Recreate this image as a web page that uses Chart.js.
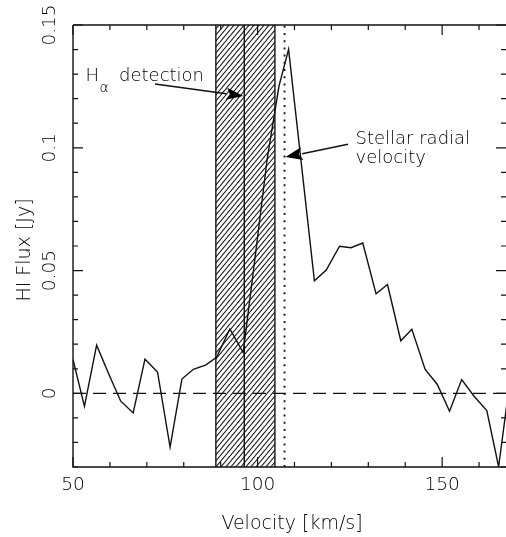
<!DOCTYPE html>
<html>
<head>
<meta charset="utf-8">
<script src="https://cdn.jsdelivr.net/npm/chart.js@4/dist/chart.umd.min.js"></script>
<style>
  html, body { margin: 0; padding: 0; background: #fff; }
  canvas { display: block; }
</style>
</head>
<body>
<canvas id="spectrum" width="506" height="537"></canvas>
<script>
// HI spectrum: channel velocity (km/s) and flux density (Jy)
const velocity = [50.0, 53.1, 56.4, 59.6, 62.9, 66.3, 69.5, 72.9, 76.3, 79.5, 82.6, 85.9,
  88.9, 92.5, 96.1, 99.3, 102.6, 105.8, 108.4, 115.4, 118.6, 122.2, 125.3, 128.5,
  132.1, 135.2, 138.8, 141.8, 145.4, 148.7, 152.0, 155.3, 158.7, 162.1, 165.3, 168.6];
const hiFlux = [0.0138, -0.0053, 0.0196, 0.0082, -0.0031, -0.0080, 0.0139, 0.0087, -0.0219, 0.0058, 0.0098, 0.0115,
  0.0147, 0.0262, 0.0166, 0.0550, 0.0954, 0.1251, 0.1401, 0.0458, 0.0502, 0.0599, 0.0593, 0.0612,
  0.0405, 0.0443, 0.0214, 0.0261, 0.0097, 0.0036, -0.0073, 0.0056, -0.0013, -0.0070, -0.0299, 0.0078];

// H-alpha detection window, its centre, and the stellar radial velocity (km/s)
const hAlphaWindow = [88.7, 104.7];
const hAlphaCentre = 96.4;
const stellarVelocity = 107.3;

// Axis ranges and labelled ticks
const velocityRange = [50, 167.3];
const fluxRange = [-0.03, 0.15];
const velocityTickLabels = [50, 100, 150];
const fluxTickLabels = [0, 0.05, 0.1, 0.15];
const velocityMinorStep = 10;
const fluxMinorStep = 0.01;

const INK = '#111';
const FONT = '"DejaVu Sans", "Liberation Sans", sans-serif';

// Diagonal hatching for the H-alpha window
function hatchPattern() {
  const w = 5, h = 6;
  const tile = document.createElement('canvas');
  tile.width = w; tile.height = h;
  const t = tile.getContext('2d');
  t.strokeStyle = INK;
  t.lineWidth = 1.1;
  for (let k = -1; k <= 1; k++) {
    t.beginPath();
    t.moveTo(k * w, h);
    t.lineTo(k * w + w, 0);
    t.stroke();
  }
  return t.createPattern(tile, 'repeat');
}

const spectrumPoints = velocity.map((v, i) => ({ x: v, y: hiFlux[i] }));
const zeroLine = [{ x: velocityRange[0], y: 0 }, { x: velocityRange[1] + 2, y: 0 }];
const vertical = v => [{ x: v, y: fluxRange[0] }, { x: v, y: fluxRange[1] }];

function arrow(ctx, x0, y0, x1, y1, len, half) {
  const a = Math.atan2(y1 - y0, x1 - x0);
  const bx = x1 - len * Math.cos(a), by = y1 - len * Math.sin(a);
  ctx.beginPath();
  ctx.moveTo(x0, y0);
  ctx.lineTo(bx, by);
  ctx.stroke();
  ctx.beginPath();
  ctx.moveTo(x1, y1);
  ctx.lineTo(bx + half * Math.sin(a), by - half * Math.cos(a));
  ctx.lineTo(x1 - 0.8 * len * Math.cos(a), y1 - 0.8 * len * Math.sin(a));
  ctx.lineTo(bx - half * Math.sin(a), by + half * Math.cos(a));
  ctx.closePath();
  ctx.fill();
}

// Frame with inward ticks, tick labels, titles and annotations
const decorations = {
  id: 'decorations',
  afterDraw(chart) {
    const { ctx, chartArea: ca, scales } = chart;
    const xs = scales.x, ys = scales.y;
    ctx.save();
    ctx.strokeStyle = INK;
    ctx.fillStyle = '#000';
    ctx.lineWidth = 1.4;

    // frame: left, bottom, top
    ctx.beginPath();
    ctx.moveTo(ca.left, ca.top);
    ctx.lineTo(ca.left, ca.bottom);
    ctx.lineTo(ca.right, ca.bottom);
    ctx.moveTo(ca.left, ca.top);
    ctx.lineTo(ca.right, ca.top);
    ctx.stroke();

    // velocity ticks (bottom and top)
    ctx.lineWidth = 1.2;
    const nx = Math.floor((velocityRange[1] - velocityRange[0]) / velocityMinorStep + 1e-6);
    for (let i = 0; i <= nx; i++) {
      const v = velocityRange[0] + i * velocityMinorStep;
      const px = xs.getPixelForValue(v);
      const major = velocityTickLabels.includes(v);
      const L = major ? 10 : 5;
      ctx.beginPath();
      ctx.moveTo(px, ca.bottom); ctx.lineTo(px, ca.bottom - L);
      ctx.moveTo(px, ca.top); ctx.lineTo(px, ca.top + L);
      ctx.stroke();
    }
    // flux ticks (left and right)
    const ny = Math.round((fluxRange[1] - fluxRange[0]) / fluxMinorStep);
    for (let i = 0; i <= ny; i++) {
      const f = +(fluxRange[0] + i * fluxMinorStep).toFixed(3);
      const py = ys.getPixelForValue(f);
      const major = fluxTickLabels.some(t => Math.abs(t - f) < 1e-6);
      const L = major ? 10 : 5;
      ctx.beginPath();
      ctx.moveTo(ca.left, py); ctx.lineTo(ca.left + L, py);
      ctx.moveTo(ca.right, py); ctx.lineTo(ca.right - L, py);
      ctx.stroke();
    }

    // tick labels
    ctx.font = '200 18.5px ' + FONT;
    ctx.textAlign = 'center';
    ctx.textBaseline = 'middle';
    velocityTickLabels.forEach(v => {
      ctx.fillText(String(v), xs.getPixelForValue(v), ca.bottom + 18.5);
    });
    fluxTickLabels.forEach(f => {
      ctx.save();
      ctx.translate(ca.left - 23, ys.getPixelForValue(f));
      ctx.rotate(-Math.PI / 2);
      ctx.fillText(String(f), 0, 0);
      ctx.restore();
    });

    // axis titles
    ctx.font = '200 19px ' + FONT;
    ctx.fillText('Velocity [km/s]', 292, 524);
    ctx.save();
    ctx.translate(25.5, 250);
    ctx.rotate(-Math.PI / 2);
    ctx.fillText('HI Flux [Jy]', 0, 0);
    ctx.restore();

    // annotations
    ctx.textAlign = 'left';
    ctx.textBaseline = 'alphabetic';
    ctx.font = '200 18px ' + FONT;
    ctx.fillText('H', 85.5, 81);
    ctx.font = '200 14px ' + FONT;
    ctx.fillText('α', 99.5, 91.5);
    ctx.font = '200 18px ' + FONT;
    ctx.fillText('detection', 119, 81);
    ctx.fillText('Stellar radial', 355.5, 144);
    ctx.fillText('velocity', 355.5, 162.5);

    ctx.lineWidth = 1.4;
    arrow(ctx, 155, 84, xs.getPixelForValue(hAlphaCentre) - 1, ys.getPixelForValue(0.1211), 17, 6);
    arrow(ctx, 348, 144.3, xs.getPixelForValue(stellarVelocity) + 1, ys.getPixelForValue(0.0962), 17, 6.5);
    ctx.restore();
  }
};

new Chart(document.getElementById('spectrum'), {
  type: 'line',
  data: {
    datasets: [
      { data: spectrumPoints, borderColor: INK, borderWidth: 1.4, pointRadius: 0, tension: 0, order: 0 },
      { data: zeroLine, borderColor: INK, borderWidth: 1.2, borderDash: [13, 7], pointRadius: 0, order: 1 },
      { data: vertical(stellarVelocity), borderColor: INK, borderWidth: 1.8, borderDash: [2, 5.2], pointRadius: 0, order: 2 },
      { data: vertical(hAlphaWindow[0]), borderColor: INK, borderWidth: 1.4, pointRadius: 0, order: 3 },
      { data: vertical(hAlphaCentre), borderColor: INK, borderWidth: 1.4, pointRadius: 0, order: 3 },
      { data: vertical(hAlphaWindow[1]), borderColor: INK, borderWidth: 1.4, pointRadius: 0, order: 3 },
      { data: [{ x: hAlphaWindow[0], y: fluxRange[1] }, { x: hAlphaWindow[1], y: fluxRange[1] }],
        borderWidth: 0, pointRadius: 0, fill: 'start', backgroundColor: hatchPattern(), order: 9 }
    ]
  },
  options: {
    responsive: false,
    animation: false,
    devicePixelRatio: 1,
    layout: { padding: { left: 73, top: 25, right: 0, bottom: 70 } },
    plugins: { legend: { display: false }, tooltip: { enabled: false } },
    scales: {
      x: { type: 'linear', display: false, min: velocityRange[0], max: velocityRange[1] },
      y: { type: 'linear', display: false, min: fluxRange[0], max: fluxRange[1] }
    }
  },
  plugins: [decorations]
});
</script>
</body>
</html>
